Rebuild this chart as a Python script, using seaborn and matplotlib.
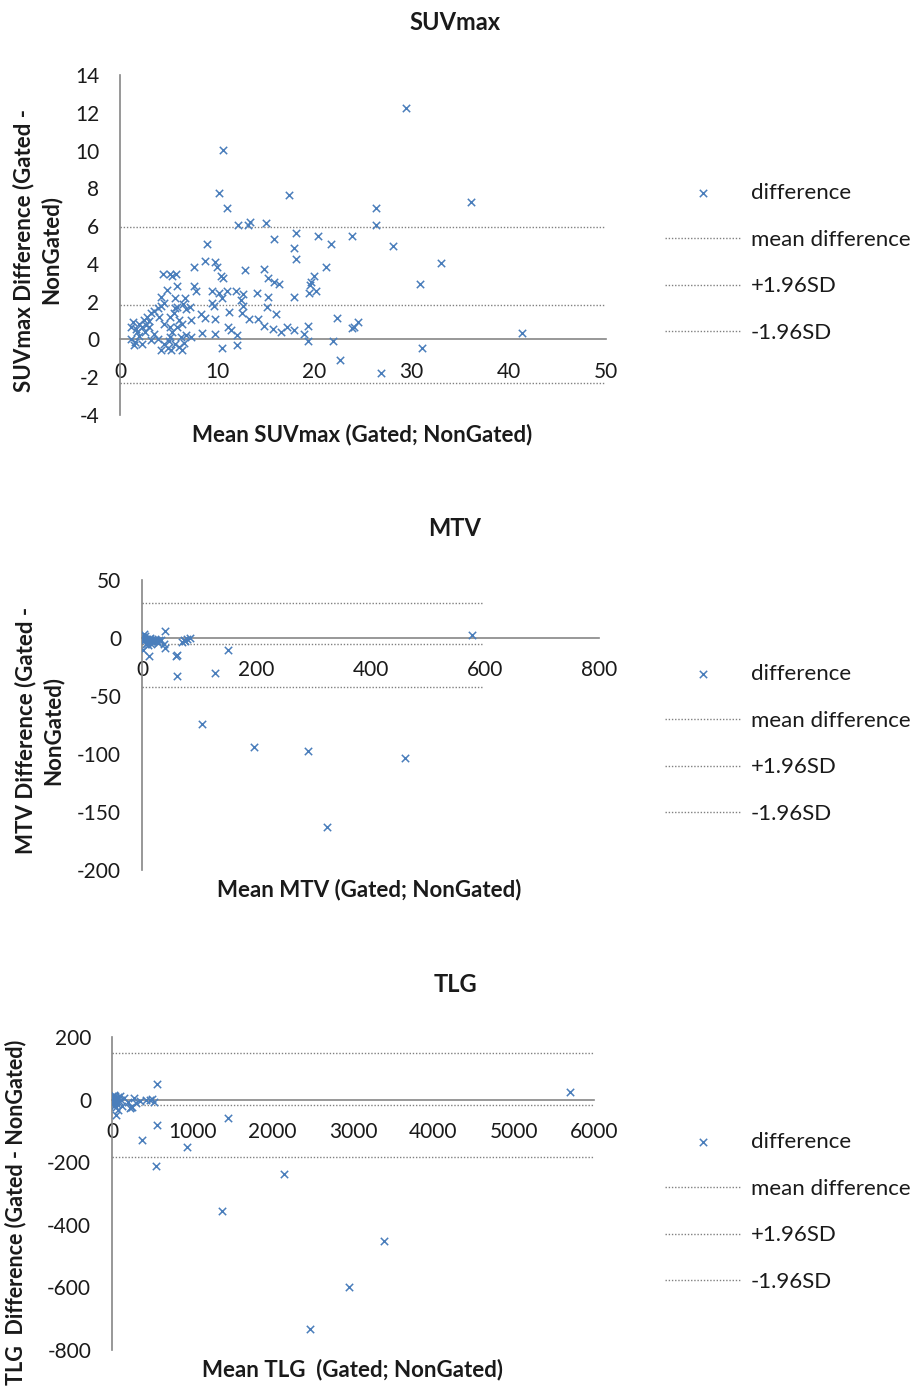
import matplotlib
matplotlib.use("Agg")
import matplotlib.pyplot as plt
import seaborn as sns

# ---------------- data ----------------
suv_mean = [29.4, 10.6, 10.2, 17.4, 36.1, 11.0, 26.3, 26.3, 12.1, 13.4, 13.2, 15.0, 18.1, 15.8,
            20.4, 23.9, 21.7, 28.1, 8.9, 17.9, 18.1, 33.0, 21.2, 8.7, 9.8, 10.0, 7.6, 12.9, 14.8,
            30.9, 20.0, 19.6, 19.5, 19.4, 20.2, 15.2, 15.8, 16.4, 10.4, 10.6, 4.4, 5.1, 5.4, 5.8,
            5.9, 7.6, 7.8, 6.7, 5.7, 4.2, 9.5, 10.2, 10.5, 11.0, 11.9, 12.7, 14.1, 15.2, 17.9,
            9.5, 9.7, 12.4, 12.7, 15.1, 5.9, 6.8, 7.2, 11.2, 12.6, 8.3, 16.0, 22.3, 24.5, 24.1,
            23.9, 13.3, 14.2, 8.7, 9.8, 11.1, 11.4, 8.4, 9.8, 12.0, 14.8, 15.7, 16.6, 17.2, 17.9,
            18.9, 19.3, 19.3, 21.9, 41.4, 31.1, 10.5, 12.0, 22.6, 26.9,
            1.1, 1.6, 1.8, 1.5, 1.4, 2.3, 2.5, 2.8, 3.2, 3.5, 3.9, 4.2, 4.5, 3.0, 3.5, 3.9, 4.2,
            4.5, 4.9, 5.2, 5.1, 5.7, 6.1, 6.4, 6.3, 5.9, 6.1, 5.6, 5.7, 5.1, 6.4, 7.3, 6.8, 7.3,
            2.3, 2.0, 2.7, 4.5, 4.0, 5.1, 5.4, 3.2, 1.1, 1.3, 2.0, 2.6, 4.8, 3.0, 6.5, 6.6, 5.0]
suv_diff = [12.26, 10.05, 7.74, 7.65, 7.26, 6.94, 6.94, 6.08, 6.04, 6.22, 6.08, 6.15, 5.65, 5.34,
            5.45, 5.45, 5.05, 4.93, 5.05, 4.84, 4.25, 4.05, 3.85, 4.16, 4.10, 3.85, 3.84, 3.66, 3.75,
            2.94, 3.35, 3.03, 2.89, 2.46, 2.56, 3.26, 3.05, 2.94, 3.35, 3.23, 3.44, 3.44, 3.35, 3.44,
            2.81, 2.81, 2.56, 2.19, 2.20, 2.24, 2.56, 2.46, 2.20, 2.56, 2.56, 2.40, 2.46, 2.24, 2.24,
            1.92, 1.77, 2.10, 1.77, 1.74, 1.70, 1.59, 1.70, 1.43, 1.38, 1.33, 1.34, 1.15, 0.93, 0.66,
            0.61, 1.06, 1.06, 1.11, 1.06, 0.66, 0.52, 0.36, 0.27, 0.25, 0.72, 0.57, 0.39, 0.66, 0.48,
            0.30, 0.72, -0.09, -0.09, 0.34, -0.47, -0.47, -0.29, -1.08, -1.76,
            0.66, 0.57, 0.39, -0.14, -0.29, -0.23, 1.02, 1.20, 1.38, 1.52, 1.65, 1.77, 1.92, 0.66,
            0.30, 0.04, -0.56, -0.23, -0.45, -0.56, 0.13, -0.23, -0.41, -0.56, 0.13, 0.66, 1.02,
            1.38, 1.65, 1.20, 0.84, 1.02, 0.22, 0.13, 0.66, 0.84, 0.75, 0.84, 1.20, 0.66, 0.39,
            -0.05, 0.04, 0.90, 0.20, 0.40, 2.60, 1.00, 1.90, -0.20, -0.10]
suv_levels = [1.82, 5.93, -2.29]          # mean difference, +1.96SD, -1.96SD
suv_line_x = [0, 50]

mtv_mean = [577, 40.7, 151, 61, 60, 11.6, 61, 128.5, 105.8, 196.5, 291, 460, 324, 37.8, 40.7,
            72.7, 78.5, 84, 70, 75.6, 1, 3,
            2, 4, 6, 8, 10, 12, 15, 18, 20, 24, 28, 5, 9, 14, 30, 2, 7, 16, 22, 1, 3, 11, 26, 33]
mtv_diff = [2.3, 5.7, -10.6, -14.3, -15.8, -15.8, -33, -29.8, -74.5, -94.3, -97.1, -103.7, -162.7,
            -4.9, -8.6, -2.0, -0.6, 0.3, -3.4, -2.9, -10.6, 3.7,
            0, -1, -2, -0.5, -3, -1.5, -2.5, -1, -3.5, -2, -4, 1.5, -4, -0.2, -1.5, -3, -5, -5,
            -0.5, 1, -2, -6, -3, -2]
mtv_levels = [-5.0, 30.4, -42.0]
mtv_line_x = [0, 595]

tlg_mean = [5705, 563, 1444, 563, 374, 932, 542, 2137, 1373, 3388, 2947, 2460, 269, 248, 353,
            479, 521, 50, 80, 17,
            5, 10, 20, 30, 40, 60, 70, 90, 110, 130, 150, 200, 300, 420, 500, 25, 45, 8, 35,
            100, 15, 55, 230, 240]
tlg_diff = [25.6, 50, -58.7, -82, -130, -152.5, -213, -237, -356, -451, -600, -733, 5, -23, -5,
            0, -9, -48, -32, 0,
            10, -5, 15, -10, 5, -15, 8, -3, 0, -20, 5, -8, -10, -2, 3, -20, -25, -12, 12, 10, 3,
            -5, -28, -25]
tlg_levels = [-18.0, 148.0, -184.5]
tlg_line_x = [0, 6000]

level_names = ["mean difference", "+1.96SD", "-1.96SD"]

titles = ["SUVmax", "MTV", "TLG"]
xlabels = ["Mean SUVmax (Gated; NonGated)", "Mean MTV (Gated; NonGated)",
           "Mean TLG  (Gated; NonGated)"]
ylabels = ["SUVmax Difference (Gated -\nNonGated)", "MTV Difference (Gated -\nNonGated)",
           "TLG  Difference (Gated - NonGated)"]
xticks = [[0, 10, 20, 30, 40, 50], [0, 200, 400, 600, 800],
          [0, 1000, 2000, 3000, 4000, 5000, 6000]]
yticks = [[-4, -2, 0, 2, 4, 6, 8, 10, 12, 14], [-200, -150, -100, -50, 0, 50],
          [-800, -600, -400, -200, 0, 200]]

# ---------------- style ----------------
sns.set_theme(style="white")
plt.rcParams['font.family'] = ['Lato', 'DejaVu Sans']
plt.rcParams['axes.unicode_minus'] = False

W, H = 912, 1397
fig = plt.figure(figsize=(W / 100, H / 100), dpi=100)


def fx(px):
    return px / W


def fy(py):
    return 1 - py / H


BLUE = '#4a7ebb'
AXC = '#868686'
DOT = '#808080'
TXT = '#1a1a1a'
FS_TICK = 15
FS_LEG = 16
FS_LAB = 16
FS_TITLE = 17

# pixel boxes: (left, right, top, bottom)
boxes = [(120, 606, 75, 415), (142, 599, 580, 870), (112, 594, 1037, 1350)]
title_pos = [(455, 22), (455, 528), (455, 985)]
xlabel_pos = [(362, 435), (369, 890), (353, 1370)]
ylabel_pos = [(37, 250), (39, 730), (16, 1212)]
ylabel_fs = [FS_LAB, FS_LAB, 15.5]
legend_cy = [263, 744, 1212]

data = [(suv_mean, suv_diff, suv_levels, suv_line_x),
        (mtv_mean, mtv_diff, mtv_levels, mtv_line_x),
        (tlg_mean, tlg_diff, tlg_levels, tlg_line_x)]

for i, (xm, yd, lv, lx) in enumerate(data):
    l, r, t, b = boxes[i]
    ax = fig.add_axes([fx(l), fy(b), (r - l) / W, (b - t) / H])
    sns.scatterplot(x=xm, y=yd, marker='x', color=BLUE, s=28, linewidth=1.1,
                    ax=ax, label='difference', zorder=3)
    for val, name in zip(lv, level_names):
        ax.plot(lx, [val, val], color=DOT, lw=1.0, ls=(0, (1, 1.3)), label=name, zorder=2)
    ax.set_xlim(xticks[i][0], xticks[i][-1])
    ax.set_ylim(yticks[i][0], yticks[i][-1])
    ax.set_xticks(xticks[i])
    ax.set_yticks(yticks[i])
    ax.set_xlabel('')
    ax.set_ylabel('')
    for s in ['top', 'right']:
        ax.spines[s].set_visible(False)
    ax.spines['bottom'].set_position(('data', 0))
    for s in ['left', 'bottom']:
        ax.spines[s].set_color(AXC)
        ax.spines[s].set_linewidth(1.2)
        ax.spines[s].set_zorder(1)
    ax.tick_params(axis='x', length=0, pad=16, labelsize=FS_TICK, labelcolor=TXT)
    ax.tick_params(axis='y', length=0, pad=15, labelsize=FS_TICK, labelcolor=TXT)
    ax.grid(False)
    ax.set_facecolor('none')

    ax.legend(loc='center left', bbox_to_anchor=(fx(665), fy(legend_cy[i])),
              bbox_transform=fig.transFigure, frameon=False, fontsize=FS_LEG,
              handlelength=3.4, handletextpad=0.45, labelspacing=1.2,
              borderpad=0, borderaxespad=0, labelcolor=TXT)

    fig.text(fx(title_pos[i][0]), fy(title_pos[i][1]), titles[i], ha='center', va='center',
             fontsize=FS_TITLE, fontweight='bold', color=TXT)
    fig.text(fx(xlabel_pos[i][0]), fy(xlabel_pos[i][1]), xlabels[i], ha='center', va='center',
             fontsize=FS_LAB, fontweight='bold', color=TXT)
    fig.text(fx(ylabel_pos[i][0]), fy(ylabel_pos[i][1]), ylabels[i], ha='center', va='center',
             rotation=90, fontsize=ylabel_fs[i], fontweight='bold', color=TXT, linespacing=1.35,
             multialignment='center')

fig.savefig('out.png', dpi=100)
